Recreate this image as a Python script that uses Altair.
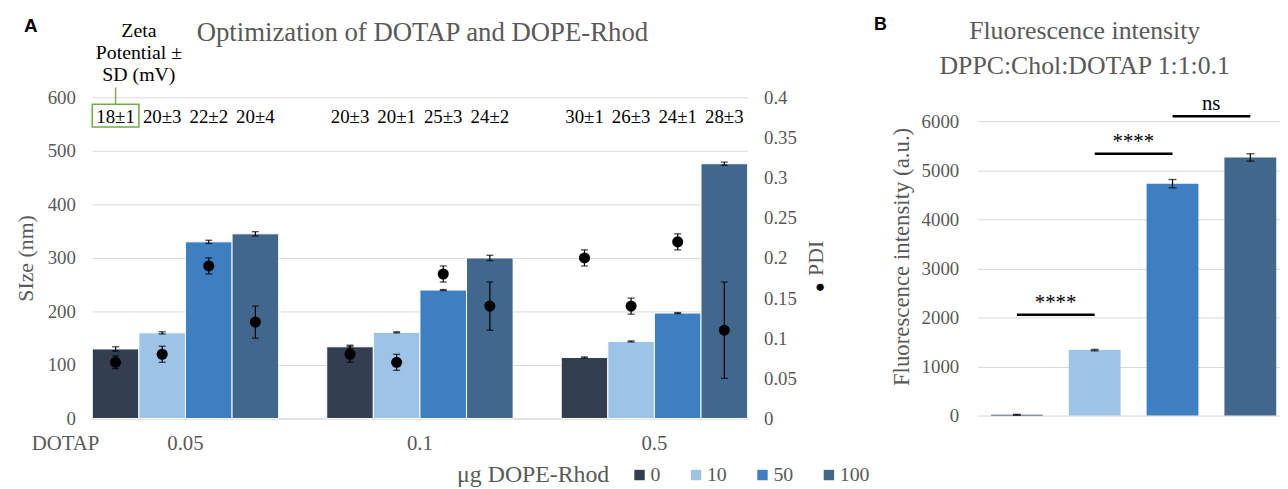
import altair as alt
import pandas as pd

# ---------------- data ----------------
dotap = ["0.05", "0.1", "0.5"]
rhod = ["0", "10", "50", "100"]
colors = ["#333f50", "#9dc3e6", "#3e7fc1", "#41678d"]

size_mean = [[130, 160, 330, 345], [134, 161, 240, 300], [114, 144, 197, 476]]
size_sd = [[4, 2, 3, 4], [3, 1, 1, 5], [1, 1, 1, 3]]
pdi_mean = [[0.07, 0.08, 0.19, 0.12], [0.08, 0.07, 0.18, 0.14], [0.20, 0.14, 0.22, 0.11]]
pdi_sd = [[0.008, 0.01, 0.01, 0.02], [0.01, 0.01, 0.01, 0.03], [0.01, 0.01, 0.01, 0.06]]
zeta = [["18±1", "20±3", "22±2", "20±4"],
        ["20±3", "20±1", "25±3", "24±2"],
        ["30±1", "26±3", "24±1", "28±3"]]

fluor_mean = [15, 1335, 4730, 5265]
fluor_sd = [10, 15, 85, 75]

sig_from = ["0", "10", "50"]
sig_to = ["10", "50", "100"]
sig_y = [2055, 5340, 6105]
sig_label = ["****", "****", "ns"]

size_ticks = [0, 100, 200, 300, 400, 500, 600]
pdi_ticks = [0, 0.05, 0.1, 0.15, 0.2, 0.25, 0.3, 0.35, 0.4]
fluor_ticks = [0, 1000, 2000, 3000, 4000, 5000, 6000]

title_a = "Optimization of DOTAP and DOPE-Rhod"
zeta_header = "Zeta\nPotential ±\nSD (mV)"
title_b = ["Fluorescence intensity", "DPPC:Chol:DOTAP 1:1:0.1"]

# ---------------- tables ----------------
rows = []
for i, d in enumerate(dotap):
    for j, r in enumerate(rhod):
        rows.append(dict(
            dotap=d, rhod=r,
            size=size_mean[i][j],
            size_lo=size_mean[i][j] - size_sd[i][j],
            size_hi=size_mean[i][j] + size_sd[i][j],
            pdi=pdi_mean[i][j],
            pdi_lo=pdi_mean[i][j] - pdi_sd[i][j],
            pdi_hi=pdi_mean[i][j] + pdi_sd[i][j],
            zeta=zeta[i][j],
        ))
df = pd.DataFrame(rows)

dfB = pd.DataFrame({
    "rhod": rhod,
    "f": fluor_mean,
    "lo": [m - s for m, s in zip(fluor_mean, fluor_sd)],
    "hi": [m + s for m, s in zip(fluor_mean, fluor_sd)],
    "color": colors,
})
dfSig = pd.DataFrame({"from": sig_from, "to": sig_to, "y": sig_y, "label": sig_label})

SERIF = "Liberation Serif"
SANS = "Liberation Sans"
GRAY = "#595959"
GRID = "#d9d9d9"

W1, H1 = 661, 324
W2, H2 = 305, 321

# ---------------- panel A ----------------
xenc = alt.X("dotap:N", sort=dotap,
             scale=alt.Scale(domain=dotap, paddingInner=0.205, paddingOuter=0),
             axis=alt.Axis(title=None, labelFont=SERIF, labelFontSize=21, labelColor=GRAY,
                           labelAngle=0, ticks=False, domainColor=GRID, labelPadding=14))
xoff = alt.XOffset("rhod:N", sort=rhod, scale=alt.Scale(domain=rhod, paddingInner=0, paddingOuter=0))
size_scale = alt.Scale(domain=[0, 600], nice=False)
pdi_scale = alt.Scale(domain=[0, 0.4], nice=False)

size_axis = alt.Axis(values=size_ticks, title="SIze (nm)", grid=True, gridColor=GRID,
                     domain=False, ticks=False, labelFont=SERIF, labelFontSize=19,
                     labelColor=GRAY, labelPadding=17, titleFont=SERIF, titleFontSize=22,
                     titleColor=GRAY, titleFontWeight="normal", titlePadding=10)
pdi_axis = alt.Axis(orient="right", values=pdi_ticks, format="~g", title="PDI", grid=False,
                    domain=False, ticks=False, labelFont=SERIF, labelFontSize=19,
                    labelColor=GRAY, labelPadding=16, titleFont=SERIF, titleFontSize=22,
                    titleColor=GRAY, titleFontWeight="normal", titlePadding=31, titleAngle=270)

base = alt.Chart(df)

bars = base.mark_bar(stroke="white", strokeWidth=1).encode(
    x=xenc, xOffset=xoff,
    y=alt.Y("size:Q", scale=size_scale, axis=size_axis),
    color=alt.Color("rhod:N", sort=rhod, scale=alt.Scale(domain=rhod, range=colors),
                    legend=alt.Legend(title="μg DOPE-Rhod", orient="none", legendX=368, legendY=371,
                                      direction="horizontal", columns=4, titleOrient="left",
                                      titleFont=SERIF, titleFontSize=24, titleFontWeight="normal",
                                      titleColor=GRAY, titleBaseline="middle", labelFont=SERIF,
                                      labelFontSize=20, labelColor=GRAY, symbolType="square",
                                      symbolSize=110, symbolStrokeWidth=0, columnPadding=26,
                                      labelOffset=1, titlePadding=20, symbolOpacity=1)),
)
size_rule = base.mark_rule(color="black", strokeWidth=1.2).encode(
    x=xenc, xOffset=xoff, y=alt.Y("size_lo:Q", scale=size_scale, axis=size_axis), y2="size_hi:Q")
size_cap_hi = base.mark_tick(color="black", thickness=1.3, size=7, orient="horizontal").encode(
    x=xenc, xOffset=xoff, y=alt.Y("size_hi:Q", scale=size_scale, axis=size_axis))
size_cap_lo = base.mark_tick(color="black", thickness=1.3, size=7, orient="horizontal").encode(
    x=xenc, xOffset=xoff, y=alt.Y("size_lo:Q", scale=size_scale, axis=size_axis))
size_group = alt.layer(bars, size_rule, size_cap_hi, size_cap_lo)

pts = base.mark_circle(size=125, color="black", opacity=1).encode(
    x=xenc, xOffset=xoff, y=alt.Y("pdi:Q", scale=pdi_scale, axis=pdi_axis))
pdi_rule = base.mark_rule(color="black", strokeWidth=1.2).encode(
    x=xenc, xOffset=xoff, y=alt.Y("pdi_lo:Q", scale=pdi_scale, axis=pdi_axis), y2="pdi_hi:Q")
pdi_cap_hi = base.mark_tick(color="black", thickness=1.3, size=7, orient="horizontal").encode(
    x=xenc, xOffset=xoff, y=alt.Y("pdi_hi:Q", scale=pdi_scale, axis=pdi_axis))
pdi_cap_lo = base.mark_tick(color="black", thickness=1.3, size=7, orient="horizontal").encode(
    x=xenc, xOffset=xoff, y=alt.Y("pdi_lo:Q", scale=pdi_scale, axis=pdi_axis))
pdi_group = alt.layer(pts, pdi_rule, pdi_cap_hi, pdi_cap_lo)

zeta_text = base.mark_text(font=SERIF, fontSize=19, color="black", baseline="middle").encode(
    x=xenc, xOffset=xoff, y=alt.value(20), text="zeta:N")

first = df[(df.dotap == dotap[0]) & (df.rhod == rhod[0])]
zeta_box = alt.Chart(first).mark_bar(fill=None, stroke="#70ad47", strokeWidth=1.6).encode(
    x=xenc, xOffset=xoff, y=alt.value(7), y2=alt.value(30))
zeta_line = alt.Chart(first).mark_rule(color="#70ad47", strokeWidth=1.4).encode(
    x=xenc, xOffset=xoff, y=alt.value(-10), y2=alt.value(7))

def label(txt, x, y, size, color=GRAY, font=SERIF, weight="normal", **kw):
    return alt.Chart(pd.DataFrame({"t": [txt]})).mark_text(
        font=font, fontSize=size, color=color, fontWeight=weight, baseline="middle", **kw
    ).encode(x=alt.value(x), y=alt.value(y), text="t:N")

hdr = label(zeta_header, 47, -67, 20, color="black", lineBreak="\n", lineHeight=22.5)
ttl_a = label(title_a, 333, -65, 27)
lab_a = label("A", -62, -72, 19, color="black", font=SANS, weight="bold")
lab_dotap = label("DOTAP", -27, 350, 21)
pdi_dot = label("●", 734, 191, 17, color="black")

left = alt.layer(size_group, pdi_group, zeta_text, zeta_box, zeta_line, hdr, ttl_a, lab_a,
                 lab_dotap, pdi_dot).resolve_scale(y="independent").properties(width=W1, height=H1)

# ---------------- panel B ----------------
xB = alt.X("rhod:N", sort=rhod,
           scale=alt.Scale(domain=rhod, paddingInner=0.334, paddingOuter=0.11, align=0.78),
           axis=None)
fscale = alt.Scale(domain=[0, 6492], nice=False)
f_axis = alt.Axis(values=fluor_ticks, format="d", title="Fluorescence intensity (a.u.)", grid=True,
                  gridColor=GRID, domain=False, ticks=False, labelFont=SERIF,
                  labelFontSize=19, labelColor=GRAY, labelPadding=19, titleFont=SERIF,
                  titleFontSize=23, titleColor=GRAY, titleFontWeight="normal",
                  titlePadding=8)
baseB = alt.Chart(dfB)
barsB = baseB.mark_bar().encode(
    x=xB, y=alt.Y("f:Q", scale=fscale, axis=f_axis),
    color=alt.Color("color:N", scale=None),
)
ruleB = baseB.mark_rule(color="black", strokeWidth=1.2).encode(
    x=xB, y=alt.Y("lo:Q", scale=fscale, axis=f_axis), y2="hi:Q")
capB_hi = baseB.mark_tick(color="black", thickness=1.3, size=8, orient="horizontal").encode(
    x=xB, y=alt.Y("hi:Q", scale=fscale, axis=f_axis))
capB_lo = baseB.mark_tick(color="black", thickness=1.3, size=8, orient="horizontal").encode(
    x=xB, y=alt.Y("lo:Q", scale=fscale, axis=f_axis))

xS = alt.X("from:N", sort=rhod, scale=alt.Scale(domain=rhod, paddingInner=0.334,
                                                paddingOuter=0.11, align=0.78), axis=None)
sig_rule = alt.Chart(dfSig).mark_rule(color="black", strokeWidth=2.5).encode(
    x=xS, x2="to:N", y=alt.Y("y:Q", scale=fscale, axis=f_axis))
sig_text = alt.Chart(dfSig).mark_text(font=SERIF, fontSize=21, color="black", baseline="middle",
                                      dx=39, dy=-12).encode(
    x=xS, y=alt.Y("y:Q", scale=fscale, axis=f_axis), text="label:N")

ttl_b1 = label(title_b[0], 108, -67, 26)
ttl_b2 = label(title_b[1], 108, -32, 26)
lab_b = label("B", -98, -73, 18, color="black", font=SANS, weight="bold")

right = alt.layer(barsB, ruleB, capB_hi, capB_lo, sig_rule, sig_text, ttl_b1, ttl_b2, lab_b
                  ).properties(width=W2, height=H2)

chart = alt.hconcat(left, right, spacing=232, bounds="flush").resolve_scale(
    color="independent").resolve_legend(color="independent").properties(
    padding={"left": 6, "top": 6, "right": 0, "bottom": 0}).configure_view(stroke=None)

chart.save("out.html", embed_options={"renderer": "svg", "actions": False})
